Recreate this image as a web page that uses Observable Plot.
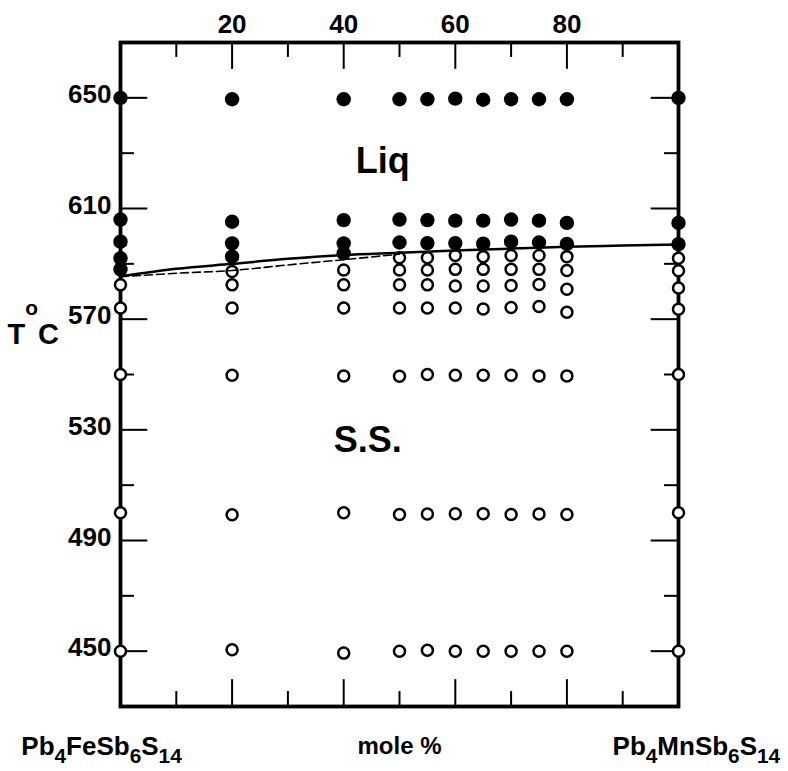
<!DOCTYPE html>
<html><head><meta charset="utf-8">
<script src="https://cdn.jsdelivr.net/npm/d3@7"></script>
<script src="https://cdn.jsdelivr.net/npm/@observablehq/plot@0.6"></script>
<style>
body{margin:0;background:#fff;}
#chart svg{display:block;}
</style>
</head><body><div id="chart"></div>
<script>
// Compositions (mole % Pb4MnSb6S14) where runs were made
const compositions = [0, 20, 40, 50, 55, 60, 65, 70, 75, 80, 100];

// Filled circles (liquid) – temperatures (°C) at each composition
const liq0   = [650, 606, 598, 592, 588];
const liq20  = [649.5, 605.2, 597.4, 592.6];
const liq40  = [649.5, 605.8, 597.4, 593.8];
const liq50  = [649.5, 606, 597.7];
const liq55  = [649.5, 605.8, 597.5];
const liq60  = [649.7, 605.6, 597.5];
const liq65  = [649.3, 605.6, 597.3];
const liq70  = [649.5, 606, 598];
const liq75  = [649.5, 605.6, 597.7];
const liq80  = [649.5, 604.8, 597.2];
const liq100 = [650, 604.8, 597.1];

// Open circles (solid solution) – temperatures (°C) at each composition
const ss0   = [582.4, 574, 550, 500, 450];
const ss20  = [587.2, 582.4, 574, 549.7, 499.3, 450.5];
const ss40  = [587.8, 582.4, 574, 549.5, 500, 449.3];
const ss50  = [592.2, 587.8, 582.4, 574, 549.4, 499.4, 450];
const ss55  = [592.2, 587.8, 582.4, 574, 550, 499.6, 450.3];
const ss60  = [593, 588, 582, 574, 549.7, 499.7, 450];
const ss65  = [592.6, 588, 582, 573.7, 549.7, 499.7, 450];
const ss70  = [593, 588, 582.2, 574.2, 549.7, 499.4, 450];
const ss75  = [593, 588, 582.5, 574.6, 549.5, 499.6, 450];
const ss80  = [592.6, 587.6, 580.8, 572.5, 549.5, 499.4, 450];
const ss100 = [592, 587.5, 581.3, 573.6, 550, 500, 450];

// Solidus / liquidus curves
const curveX      = [0, 10, 20, 30, 40, 50, 60, 70, 80, 90, 100];
const solidCurveT = [585.5, 588.2, 590, 591.8, 593.2, 594, 594.8, 595.5, 596.2, 596.6, 597];
const dashX       = [0, 10, 20, 30, 40, 50];
const dashCurveT  = [585.3, 586.6, 587.6, 589.6, 591.5, 593.5];

// Axis ticks
const yLabelTicks = [450, 490, 530, 570, 610, 650];
const yMinorTicks = [470, 510, 550, 590, 630];
const xLabelTicks = [20, 40, 60, 80];
const xMinorTicks = [10, 30, 50, 70, 90];

// Text labels
const leftCompound  = "Pb_4FeSb_6S_14";
const rightCompound = "Pb_4MnSb_6S_14";
const xTitle = "mole %";
const yTitle = "T^oC";
const phaseLabels = [{x: 47, y: 627, text: "Liq"}, {x: 44.3, y: 526, text: "S.S."}];

// Build tables
const liqCols = [liq0, liq20, liq40, liq50, liq55, liq60, liq65, liq70, liq75, liq80, liq100];
const ssCols  = [ss0, ss20, ss40, ss50, ss55, ss60, ss65, ss70, ss75, ss80, ss100];
const filled = liqCols.flatMap((ts, i) => ts.map(t => ({x: compositions[i], t})));
const open   = ssCols.flatMap((ts, i) => ts.map(t => ({x: compositions[i], t})));
const solid  = curveX.map((x, i) => ({x, t: solidCurveT[i]}));
const dashed = dashX.map((x, i) => ({x, t: dashCurveT[i]}));

const FONT = "'Liberation Sans', Arial, Helvetica, sans-serif";
const yMajLen = 4.9, yMinLen = 2.5;   // in x units
const xMajLen = 9.7, xMinLen = 5.4;   // in °C units

const plot = Plot.plot({
  width: 788,
  height: 771,
  marginLeft: 120,
  marginRight: 110,
  marginTop: 42,
  marginBottom: 65,
  x: {domain: [0, 100]},
  y: {domain: [430, 670]},
  style: {fontFamily: FONT, fontWeight: "bold", background: "white", overflow: "visible", color: "black"},
  marks: [
    // inward ticks
    Plot.ruleY(yLabelTicks, {x1: 0, x2: yMajLen, strokeWidth: 2}),
    Plot.ruleY(yMinorTicks, {x1: 0, x2: yMinLen, strokeWidth: 2}),
    Plot.ruleY(yLabelTicks, {x1: 100 - yMajLen, x2: 100, strokeWidth: 2}),
    Plot.ruleY(yMinorTicks, {x1: 100 - yMinLen, x2: 100, strokeWidth: 2}),
    Plot.ruleX(xLabelTicks, {y1: 670, y2: 670 - xMajLen, strokeWidth: 2}),
    Plot.ruleX(xMinorTicks, {y1: 670, y2: 670 - xMinLen, strokeWidth: 2}),
    Plot.ruleX(xLabelTicks, {y1: 430, y2: 430 + xMajLen, strokeWidth: 2}),
    Plot.ruleX(xMinorTicks, {y1: 430, y2: 430 + xMinLen, strokeWidth: 2}),
    Plot.frame({strokeWidth: 3.8}),
    Plot.axisY({ticks: yLabelTicks, tickSize: 0, tickPadding: 9, fontSize: 26, fontWeight: "bold", label: null, dy: -3}),
    Plot.axisX({anchor: "top", ticks: xLabelTicks, tickSize: 0, tickPadding: 10, fontSize: 26, fontWeight: "bold", label: null}),
    Plot.dot(filled, {x: "x", y: "t", r: 7.2, fill: "black", stroke: "none"}),
    Plot.dot(open, {x: "x", y: "t", r: 5.5, fill: "white", stroke: "black", strokeWidth: 2.5}),
    Plot.line(solid, {x: "x", y: "t", curve: "monotone-x", stroke: "black", strokeWidth: 2.5}),
    Plot.line(dashed, {x: "x", y: "t", curve: "monotone-x", stroke: "black", strokeWidth: 1.6, strokeDasharray: "8,4"}),
    Plot.text(phaseLabels, {x: "x", y: "y", text: "text", fontSize: 36, fontWeight: "bold"}),
    Plot.text([yTitle], {frameAnchor: "left", textAnchor: "start", y: 564.5, dx: -113, fontSize: 29, fontWeight: "bold"}),
    Plot.text([leftCompound], {x: -3.4, y: 415.5, fontSize: 26, fontWeight: "bold"}),
    Plot.text([rightCompound], {x: 103.2, y: 415.5, fontSize: 26, fontWeight: "bold"}),
    Plot.text([xTitle], {x: 50, y: 415.5, fontSize: 24, fontWeight: "bold"})
  ]
});

document.getElementById("chart").appendChild(plot);

// Convert _sub and ^sup markup into tspans (pixel offsets)
d3.select(plot).selectAll("text").each(function () {
  const s = this.textContent;
  if (!/[_^]/.test(s)) return;
  const base = parseFloat(getComputedStyle(this).fontSize) || 26;
  const parts = s.match(/[_^][0-9a-z]+|[^_^]+/g);
  const el = d3.select(this);
  el.text(null);
  let shift = 0;
  for (const p of parts) {
    let target = 0, str = p, size = null;
    if (p[0] === "_") { target = 0.3 * base; str = p.slice(1); size = 0.8 * base; }
    else if (p[0] === "^") { target = -1.0 * base; str = p.slice(1); size = 0.72 * base; }
    const ts = el.append("tspan").text(str);
    const dy = target - shift;
    if (dy !== 0) ts.attr("dy", dy.toFixed(2) + "px");
    if (size) ts.attr("font-size", size.toFixed(1) + "px");
    shift = target;
  }
});
</script>
</body></html>
